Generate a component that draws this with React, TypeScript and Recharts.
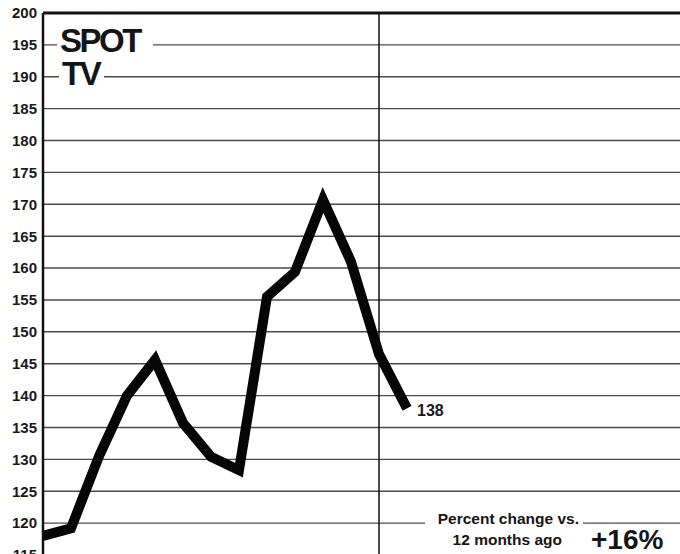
import { LineChart, Line, XAxis, YAxis, CartesianGrid, ReferenceLine, Customized } from "recharts";

// monthly index values, spot TV
const MONTHS = [0, 1, 2, 3, 4, 5, 6, 7, 8, 9, 10, 11, 12, 13];
const VALUES = [118, 119.2, 130.5, 140, 145.6, 135.7, 130.4, 128.3, 155.5, 159.4, 170.7, 161, 146.5, 138];
const Y_TICKS = [115, 120, 125, 130, 135, 140, 145, 150, 155, 160, 165, 170, 175, 180, 185, 190, 195, 200];

const data = MONTHS.map((m, i) => ({ m, v: VALUES[i] }));
const FONT = "'Liberation Sans', Arial, sans-serif";

function Notes() {
  return (
    <g fontFamily={FONT} fontWeight="bold" fill="#151515">
      <rect x={57} y={28} width={96} height={28} fill="#fff" />
      <text x={60} y={52} fontSize={33} letterSpacing={-2.5}>SPOT</text>
      <rect x={59} y={61} width={45} height={26} fill="#fff" />
      <text x={62} y={85} fontSize={33} letterSpacing={-2.5}>TV</text>
      <rect x={425} y={510} width={158} height={44} fill="#fff" />
      <text x={579} y={524} fontSize={15.5} textAnchor="end">Percent change vs.</text>
      <text x={562} y={545} fontSize={15.5} textAnchor="end">12 months ago</text>
      <text x={591} y={549} fontSize={28}>+16%</text>
    </g>
  );
}

function EndLabel(props: any) {
  const { x, y, index, value } = props;
  if (index !== VALUES.length - 1) return <g />;
  return (
    <text x={x + 10} y={y + 8} fontFamily={FONT} fontWeight="bold" fontSize={16} fill="#1a1a1a">
      {value}
    </text>
  );
}

export default function App() {
  return (
    <div style={{ position: "absolute", left: 0, top: 0, width: 680, height: 554, overflow: "hidden", background: "#fff" }}>
      <LineChart width={680} height={560} data={data} margin={{ top: 13, right: 0, bottom: 5, left: 0 }}>
        <CartesianGrid vertical={false} stroke="#4a4a4a" strokeWidth={1.4} />
        <XAxis type="number" dataKey="m" domain={[0, 22.75]} hide />
        <YAxis
          domain={[115, 200]}
          ticks={Y_TICKS}
          width={43}
          tickSize={0}
          tickMargin={6}
          tickLine={false}
          axisLine={{ stroke: "#111", strokeWidth: 2.5 }}
          tick={{ fontFamily: FONT, fontWeight: "bold", fontSize: 15, fill: "#1a1a1a" }}
          interval={0}
        />
        <ReferenceLine y={200} stroke="#111" strokeWidth={3} />
        <ReferenceLine x={12} stroke="#111" strokeWidth={1.5} />
        <Customized component={Notes} />
        <Line
          type="linear"
          dataKey="v"
          stroke="#050505"
          strokeWidth={10}
          strokeLinejoin="miter"
          dot={false}
          label={EndLabel}
          isAnimationActive={false}
        />
      </LineChart>
    </div>
  );
}
